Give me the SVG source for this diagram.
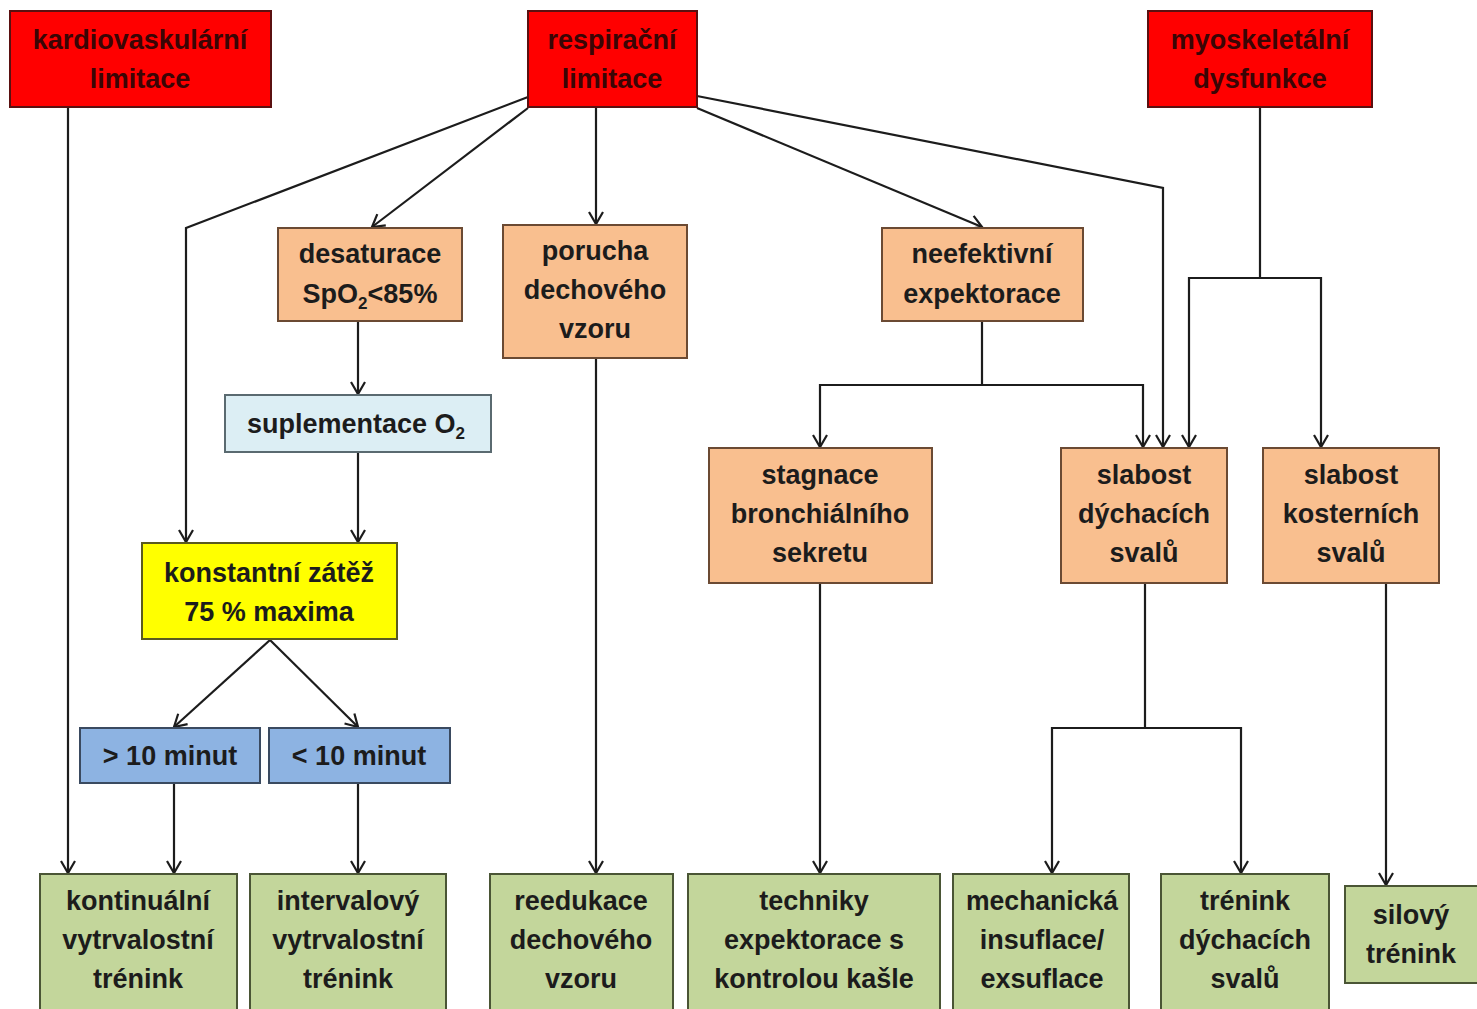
<svg xmlns="http://www.w3.org/2000/svg" width="1477" height="1009" viewBox="0 0 1477 1009">
<style>
  .box { stroke-width: 2; }
  .red { fill: #FF0000; stroke: #5a1010; }
  .org { fill: #F9BF8F; stroke: #6b4a33; }
  .lb { fill: #DCEEF4; stroke: #5a6a70; }
  .yel { fill: #FFFF00; stroke: #5a5a20; }
  .blu { fill: #8DB3E2; stroke: #3a4a60; }
  .grn { fill: #C3D69B; stroke: #4a5535; }
  text { font-family: "Liberation Sans", Arial, sans-serif; font-weight: bold; font-size: 27px; fill: #1c1c1c; text-anchor: middle; }
  .rt { fill: #3a0505; }
  .conn { fill: none; stroke: #1c1c1c; stroke-width: 2.2; }
  .sub { font-size: 17px; }
</style>
<defs>
  <marker id="ar" markerUnits="userSpaceOnUse" markerWidth="18" markerHeight="18" viewBox="0 0 18 18" refX="14" refY="9" orient="auto">
    <path d="M2,2 L14,9 L2,16" fill="none" stroke="#1c1c1c" stroke-width="2.2"/>
  </marker>
</defs>

<g id="connectors">
  <path class="conn" d="M68,107 V873" marker-end="url(#ar)"/>
  <path class="conn" d="M528,97 L186,228 V542" marker-end="url(#ar)"/>
  <path class="conn" d="M528,108 L372,227" marker-end="url(#ar)"/>
  <path class="conn" d="M596,107 V224" marker-end="url(#ar)"/>
  <path class="conn" d="M697,108 L982,227" marker-end="url(#ar)"/>
  <path class="conn" d="M697,96 L1163,188 V447" marker-end="url(#ar)"/>
  <path class="conn" d="M1260,107 V278 H1189 V447" marker-end="url(#ar)"/>
  <path class="conn" d="M1260,278 H1321 V447" marker-end="url(#ar)"/>
  <path class="conn" d="M982,321 V385 H820 V447" marker-end="url(#ar)"/>
  <path class="conn" d="M982,385 H1143 V447" marker-end="url(#ar)"/>
  <path class="conn" d="M358,321 V394" marker-end="url(#ar)"/>
  <path class="conn" d="M358,452 V542" marker-end="url(#ar)"/>
  <path class="conn" d="M270,640 L174,727" marker-end="url(#ar)"/>
  <path class="conn" d="M270,640 L358,727" marker-end="url(#ar)"/>
  <path class="conn" d="M174,783 V873" marker-end="url(#ar)"/>
  <path class="conn" d="M358,783 V873" marker-end="url(#ar)"/>
  <path class="conn" d="M596,358 V873" marker-end="url(#ar)"/>
  <path class="conn" d="M820,583 V873" marker-end="url(#ar)"/>
  <path class="conn" d="M1145,583 V728 H1052 V873" marker-end="url(#ar)"/>
  <path class="conn" d="M1145,728 H1241 V873" marker-end="url(#ar)"/>
  <path class="conn" d="M1386,583 V885" marker-end="url(#ar)"/>
</g>

<g id="n-kardio">
  <rect class="box red" x="10" y="11" width="261" height="96"/>
  <text class="rt" x="140" y="49">kardiovaskulární</text>
  <text class="rt" x="140" y="88">limitace</text>
</g>
<g id="n-respir">
  <rect class="box red" x="528" y="11" width="169" height="96"/>
  <text class="rt" x="612" y="49">respirační</text>
  <text class="rt" x="612" y="88">limitace</text>
</g>
<g id="n-myo">
  <rect class="box red" x="1148" y="11" width="224" height="96"/>
  <text class="rt" x="1260" y="49">myoskeletální</text>
  <text class="rt" x="1260" y="88">dysfunkce</text>
</g>
<g id="n-desat">
  <rect class="box org" x="278" y="228" width="184" height="93"/>
  <text x="370" y="263">desaturace</text>
  <text x="370" y="303">SpO<tspan class="sub" dy="6">2</tspan><tspan dy="-6">&lt;85%</tspan></text>
</g>
<g id="n-porucha">
  <rect class="box org" x="503" y="225" width="184" height="133"/>
  <text x="595" y="260">porucha</text>
  <text x="595" y="299">dechového</text>
  <text x="595" y="338">vzoru</text>
</g>
<g id="n-neef">
  <rect class="box org" x="882" y="228" width="201" height="93"/>
  <text x="982" y="263">neefektivní</text>
  <text x="982" y="303">expektorace</text>
</g>
<g id="n-suple">
  <rect class="box lb" x="225" y="395" width="266" height="57"/>
  <text x="356" y="433">suplementace O<tspan class="sub" dy="6">2</tspan></text>
</g>
<g id="n-konst">
  <rect class="box yel" x="142" y="543" width="255" height="96"/>
  <text x="269" y="582">konstantní zátěž</text>
  <text x="269" y="621">75 % maxima</text>
</g>
<g id="n-stag">
  <rect class="box org" x="709" y="448" width="223" height="135"/>
  <text x="820" y="484">stagnace</text>
  <text x="820" y="523">bronchiálního</text>
  <text x="820" y="562">sekretu</text>
</g>
<g id="n-slabd">
  <rect class="box org" x="1061" y="448" width="166" height="135"/>
  <text x="1144" y="484">slabost</text>
  <text x="1144" y="523">dýchacích</text>
  <text x="1144" y="562">svalů</text>
</g>
<g id="n-slabk">
  <rect class="box org" x="1263" y="448" width="176" height="135"/>
  <text x="1351" y="484">slabost</text>
  <text x="1351" y="523">kosterních</text>
  <text x="1351" y="562">svalů</text>
</g>
<g id="n-gt10">
  <rect class="box blu" x="80" y="728" width="180" height="55"/>
  <text x="170" y="765">&gt; 10 minut</text>
</g>
<g id="n-lt10">
  <rect class="box blu" x="269" y="728" width="181" height="55"/>
  <text x="359" y="765">&lt; 10 minut</text>
</g>
<g id="n-kont">
  <rect class="box grn" x="40" y="874" width="197" height="145"/>
  <text x="138" y="910">kontinuální</text>
  <text x="138" y="949">vytrvalostní</text>
  <text x="138" y="988">trénink</text>
</g>
<g id="n-interv">
  <rect class="box grn" x="250" y="874" width="196" height="145"/>
  <text x="348" y="910">intervalový</text>
  <text x="348" y="949">vytrvalostní</text>
  <text x="348" y="988">trénink</text>
</g>
<g id="n-reed">
  <rect class="box grn" x="490" y="874" width="183" height="145"/>
  <text x="581" y="910">reedukace</text>
  <text x="581" y="949">dechového</text>
  <text x="581" y="988">vzoru</text>
</g>
<g id="n-tech">
  <rect class="box grn" x="688" y="874" width="252" height="145"/>
  <text x="814" y="910">techniky</text>
  <text x="814" y="949">expektorace s</text>
  <text x="814" y="988">kontrolou kašle</text>
</g>
<g id="n-mech">
  <rect class="box grn" x="953" y="874" width="176" height="145"/>
  <text x="1042" y="910" textLength="152" lengthAdjust="spacingAndGlyphs">mechanická</text>
  <text x="1042" y="949">insuflace/</text>
  <text x="1042" y="988">exsuflace</text>
</g>
<g id="n-trdych">
  <rect class="box grn" x="1161" y="874" width="168" height="145"/>
  <text x="1245" y="910">trénink</text>
  <text x="1245" y="949">dýchacích</text>
  <text x="1245" y="988">svalů</text>
</g>
<g id="n-silovy">
  <rect class="box grn" x="1345" y="886" width="140" height="97"/>
  <text x="1411" y="924">silový</text>
  <text x="1411" y="963">trénink</text>
</g>
</svg>
